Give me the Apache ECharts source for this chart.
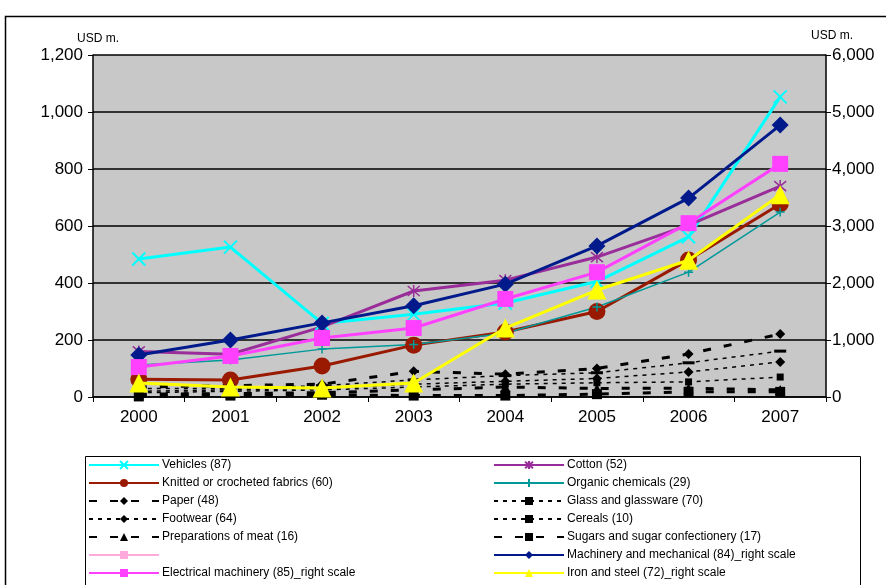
<!DOCTYPE html>
<html>
<head>
<meta charset="utf-8">
<script src="https://cdn.jsdelivr.net/npm/echarts@6/dist/echarts.min.js"></script>
<style>
  html, body { margin: 0; padding: 0; background: #fff; }
  #chart { width: 886px; height: 585px; }
</style>
</head>
<body>
<div id="chart"></div>
<script>
// Years on the category axis
const years = ['2000', '2001', '2002', '2003', '2004', '2005', '2006', '2007'];

// Left-scale series (USD m.)
const vehicles   = [484, 526, 258, 290, 330, 405, 562, 1053];
const cotton     = [160, 150, 246, 372, 410, 491, 603, 740];
const knitted    = [62, 60, 109, 182, 228, 300, 481, 677];
const organic    = [112, 130, 168, 184, 224, 316, 438, 649];
const paper      = [35, 40, 45, 90, 80, 100, 151, 221];
const glass      = [30, 30, 40, 60, 75, 85, 120, 161];
const footwear   = [20, 25, 30, 45, 55, 65, 88, 123];
const cereals    = [15, 20, 25, 35, 45, 50, 53, 70];
const meat       = [10, 12, 15, 25, 35, 30, 31, 25];
const sugars     = [2, 5, 8, 5, 5, 10, 18, 18];

// Right-scale series (USD m.)
const machinery  = [737, 1000, 1300, 1600, 1980, 2650, 3490, 4770];
const electrical = [525, 720, 1035, 1210, 1720, 2190, 3050, 4090];
const ironSteel  = [245, 175, 158, 245, 1210, 1877, 2400, 3550];

// Axis ticks
const leftMax = 1200, leftStep = 200;
const rightMax = 6000, rightStep = 1000;

const FONT = 'Liberation Sans, Arial, sans-serif';
const crossPath = 'path://M0,0L10,10M10,0L0,10';
const starPath = 'path://M0,0L10,10M10,0L0,10M5,-1L5,11';
const plusPath = 'path://M5,0L5,10M0,5L10,5';
const barPath = 'path://M0,0L12,0L12,3L0,3Z';

function lineSeries(name, data, o) {
  return {
    name: name,
    type: 'line',
    data: data,
    yAxisIndex: o.right ? 1 : 0,
    symbol: o.symbol,
    symbolSize: o.size,
    showSymbol: true,
    z: o.z || 2,
    lineStyle: { color: o.color, width: o.width, type: o.dash || 'solid' },
    itemStyle: {
      color: o.fill || o.color,
      borderColor: o.color,
      borderWidth: o.border || 0
    },
    emphasis: { disabled: true },
    animation: false
  };
}

const series = [
  lineSeries('Vehicles (87)', vehicles, { color: '#00ffff', width: 3, symbol: crossPath, size: 13, border: 2, fill: 'rgba(0,0,0,0)' }),
  lineSeries('Cotton (52)', cotton, { color: '#992d99', width: 3, symbol: starPath, size: 12, border: 1.5, fill: 'rgba(0,0,0,0)' }),
  lineSeries('Knitted or crocheted fabrics (60)', knitted, { color: '#991a00', width: 3, symbol: 'circle', size: 17 }),
  lineSeries('Organic chemicals (29)', organic, { color: '#009999', width: 1.5, symbol: plusPath, size: 9, border: 1.5, fill: 'rgba(0,0,0,0)' }),
  lineSeries('Paper (48)', paper, { color: '#000', width: 3, dash: [8, 13], symbol: 'diamond', size: 10 }),
  lineSeries('Glass and glassware (70)', glass, { color: '#000', width: 1.5, dash: [4, 5], symbol: barPath, size: [12, 3] }),
  lineSeries('Footwear (64)', footwear, { color: '#000', width: 1.5, dash: [4, 5], symbol: 'diamond', size: 10 }),
  lineSeries('Cereals (10)', cereals, { color: '#000', width: 1.5, dash: [4, 5], symbol: 'rect', size: 7 }),
  lineSeries('Preparations of meat (16)', meat, { color: '#000', width: 3, dash: [8, 13], symbol: 'triangle', size: 10 }),
  lineSeries('Sugars and sugar confectionery (17)', sugars, { color: '#000', width: 3, dash: [8, 13], symbol: 'rect', size: 10 }),
  lineSeries(' ', [], { color: '#ffaadd', width: 1.5, symbol: 'rect', size: 4 }),
  lineSeries('Machinery and mechanical (84)_right scale', machinery, { color: '#001a8c', width: 3, symbol: 'diamond', size: 17, right: true, z: 3 }),
  lineSeries('Electrical machinery (85)_right scale', electrical, { color: '#ff40ff', width: 3, symbol: 'rect', size: 16, right: true, z: 3 }),
  lineSeries('Iron and steel (72)_right scale', ironSteel, { color: '#ffff00', width: 3, symbol: 'triangle', size: 19, right: true, z: 4 })
];

const legendLeft = ['Vehicles (87)', 'Knitted or crocheted fabrics (60)', 'Paper (48)', 'Footwear (64)',
  'Preparations of meat (16)', ' ', 'Electrical machinery (85)_right scale'];
const legendRight = ['Cotton (52)', 'Organic chemicals (29)', 'Glass and glassware (70)', 'Cereals (10)',
  'Sugars and sugar confectionery (17)', 'Machinery and mechanical (84)_right scale', 'Iron and steel (72)_right scale'];

function legendCol(left, data) {
  return {
    orient: 'vertical',
    left: left,
    top: 459,
    data: data,
    itemWidth: 70,
    itemHeight: 10,
    itemGap: 6,
    selectedMode: false,
    textStyle: { fontFamily: FONT, fontSize: 12, color: '#000', padding: [0, 0, 0, -2] },
    padding: 0
  };
}

const fmt = v => v.toLocaleString('en-US');

const chart = echarts.init(document.getElementById('chart'), null, { renderer: 'canvas' });
chart.setOption({
  backgroundColor: '#fff',
  animation: false,
  grid: { left: 93, right: 60, top: 55, bottom: 188, show: true, backgroundColor: '#c8c8c8', borderWidth: 0 },
  legend: [legendCol(88, legendLeft), legendCol(493, legendRight)],
  graphic: [
    { type: 'rect', shape: { x: 5.5, y: 16.5, width: 920, height: 620 }, style: { fill: 'none', stroke: '#000', lineWidth: 1.5 }, z: 0, silent: true },
    { type: 'rect', shape: { x: 85.5, y: 456.5, width: 775, height: 150 }, style: { fill: 'none', stroke: '#000', lineWidth: 1 }, z: 0, silent: true },
    { type: 'text', left: 77, top: 33, style: { text: 'USD m.', font: '12px ' + FONT, fill: '#000' } },
    { type: 'text', left: 811, top: 30, style: { text: 'USD m.', font: '12px ' + FONT, fill: '#000' } }
  ],
  xAxis: {
    type: 'category',
    data: years,
    boundaryGap: true,
    axisLine: { lineStyle: { color: '#000', width: 1.5 } },
    axisTick: { show: true, alignWithLabel: false, length: 5, lineStyle: { color: '#000' } },
    axisLabel: { color: '#000', fontFamily: FONT, fontSize: 17, margin: 12 }
  },
  yAxis: [
    {
      type: 'value', min: 0, max: leftMax, interval: leftStep, position: 'left',
      axisLine: { show: true, lineStyle: { color: '#000', width: 1.5 } },
      axisTick: { show: true, length: 5, lineStyle: { color: '#000' } },
      axisLabel: { color: '#000', fontFamily: FONT, fontSize: 17, margin: 10, formatter: fmt },
      splitLine: { show: true, lineStyle: { color: '#000', width: 1.5 } }
    },
    {
      type: 'value', min: 0, max: rightMax, interval: rightStep, position: 'right',
      axisLine: { show: true, lineStyle: { color: '#000', width: 1.5 } },
      axisTick: { show: true, length: 5, lineStyle: { color: '#000' } },
      axisLabel: { color: '#000', fontFamily: FONT, fontSize: 17, margin: 6, formatter: fmt },
      splitLine: { show: false }
    }
  ],
  series: series
});
</script>
</body>
</html>
